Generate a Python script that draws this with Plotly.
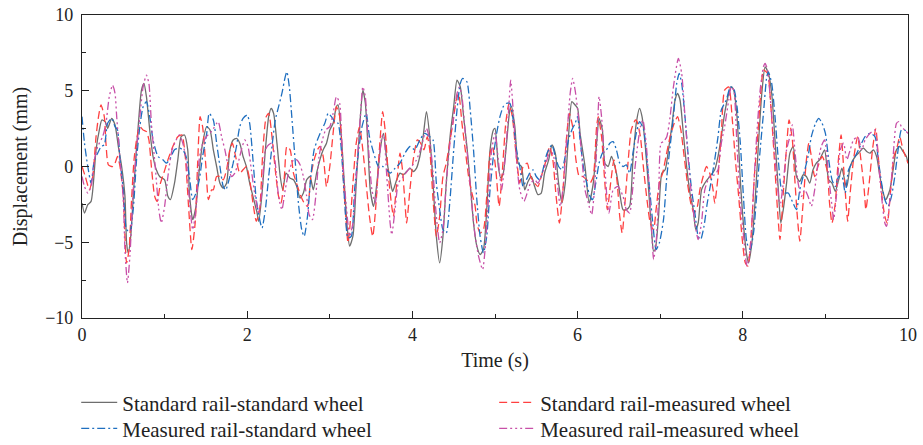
import plotly.graph_objects as go

# ---- data (time in s, displacement in mm) ----
ss = [(0.00,-2.41),(0.03,-3.07),(0.07,-2.52),(0.11,-2.30),(0.17,1.10),(0.21,2.41),(0.24,3.07),(0.28,2.96),(0.31,2.52),(0.36,3.18),
      (0.40,2.74),(0.44,1.32),(0.48,0.00),(0.52,-1.97),(0.54,-5.04),(0.56,-5.70),(0.59,-4.61),(0.63,-1.10),(0.68,2.63),(0.72,5.04),
      (0.75,5.48),(0.78,4.61),(0.82,2.41),(0.86,0.66),(0.90,-0.22),(0.94,-0.66),(1.00,-0.88),(1.04,-1.97),(1.07,-2.19),(1.12,-1.10),
      (1.16,0.44),(1.20,1.97),(1.24,2.08),(1.28,1.10),(1.30,-1.75),(1.34,-3.51),(1.38,-2.63),(1.42,-0.22),(1.46,1.54),(1.51,2.63),
      (1.55,2.41),(1.59,1.10),(1.63,0.00),(1.67,-1.10),(1.71,-1.43),(1.75,-1.10),(1.79,1.10),(1.83,1.75),(1.87,1.86),(1.91,1.54),
      (1.95,0.66),(1.99,0.00),(2.03,-1.10),(2.07,-1.97),(2.12,-3.07),(2.14,-3.62),(2.18,-1.75),(2.22,1.10),(2.26,3.29),(2.29,3.84),
      (2.32,3.51),(2.36,1.54),(2.40,-0.66),(2.43,-1.54),(2.47,-0.44),(2.52,-0.77),(2.56,-0.88),(2.60,-1.32),(2.64,-2.08),(2.68,-1.75),
      (2.72,-0.88),(2.76,-0.66),(2.80,-1.54),(2.84,-0.44),(2.88,0.44),(2.92,1.10),(2.96,1.54),(3.00,2.41),(3.04,2.85),(3.08,3.95),
      (3.10,4.06),(3.14,1.97),(3.18,-1.50),(3.21,-4.00),(3.24,-5.26),(3.28,-4.60),(3.32,-1.10),(3.37,3.29),(3.40,5.04),(3.43,4.20),
      (3.46,1.50),(3.49,-1.54),(3.53,-2.63),(3.57,-1.10),(3.61,1.10),(3.65,2.19),(3.69,0.44),(3.73,-0.88),(3.76,-1.64),(3.81,-0.88),
      (3.85,-0.44),(3.89,-0.55),(3.93,-0.33),(3.97,-0.11),(4.01,-0.33),(4.05,-0.11),(4.09,0.66),(4.13,1.97),(4.17,3.62),(4.21,1.97),
      (4.25,-1.10),(4.29,-4.61),(4.33,-6.36),(4.37,-4.61),(4.41,-1.10),(4.46,2.19),(4.50,3.95),(4.54,5.70),(4.58,5.26),(4.62,3.29),
      (4.66,1.32),(4.70,-1.10),(4.74,-3.73),(4.78,-5.26),(4.82,-5.81),(4.86,-5.48),(4.90,-2.85),(4.94,1.10),(4.98,2.41),(5.00,2.52),
      (5.04,0.00),(5.07,-0.77),(5.10,-0.44),(5.14,1.54),(5.18,3.73),(5.20,3.95),(5.24,2.63),(5.28,0.22),(5.32,0.00),(5.36,-1.54),
      (5.40,-0.99),(5.44,-0.66),(5.48,-1.32),(5.52,-1.86),(5.56,-1.75),(5.60,-0.44),(5.65,0.44),(5.69,1.43),(5.73,0.88),(5.77,-1.10),
      (5.81,-2.41),(5.85,-1.10),(5.89,1.97),(5.93,4.28),(5.97,4.06),(6.00,3.84),(6.03,2.19),(6.09,0.00),(6.14,-2.41),(6.19,-1.10),
      (6.23,1.54),(6.26,3.18),(6.30,2.41),(6.33,0.22),(6.37,0.00),(6.41,0.66),(6.47,-0.44),(6.51,-1.75),(6.55,-2.85),(6.59,-2.85),
      (6.63,-2.63),(6.67,0.44),(6.71,2.85),(6.75,3.84),(6.78,3.29),(6.82,1.32),(6.86,-1.54),(6.90,-4.61),(6.92,-5.59),(6.94,-5.48),
      (6.98,-3.29),(7.02,-0.44),(7.06,-0.22),(7.10,1.10),(7.14,2.63),(7.18,4.39),(7.21,4.82),(7.24,4.39),(7.28,2.19),(7.32,0.00),
      (7.36,-1.75),(7.40,-2.85),(7.43,-4.17),(7.46,-3.73),(7.50,-1.54),(7.54,-1.10),(7.60,-0.66),(7.66,-0.22),(7.70,0.66),(7.74,1.97),
      (7.78,3.51),(7.83,4.82),(7.86,5.26),(7.89,5.04),(7.93,3.29),(7.97,-0.90),(8.01,-3.95),(8.05,-5.92),(8.07,-6.36),(8.11,-5.04),
      (8.15,-2.19),(8.19,1.54),(8.23,4.82),(8.27,6.58),(8.31,6.14),(8.35,4.82),(8.39,1.75),(8.43,-1.54),(8.46,-3.73),(8.49,-2.85),
      (8.53,-1.10),(8.57,0.88),(8.61,1.32),(8.65,-0.66),(8.69,-0.99),(8.73,-0.55),(8.77,-0.66),(8.81,-1.10),(8.85,-0.22),(8.89,0.22),
      (8.93,0.44),(8.99,1.10),(9.04,-0.88),(9.08,-1.10),(9.12,-1.64),(9.16,-0.88),(9.20,-0.11),(9.24,-1.10),(9.26,-1.32),(9.30,0.00),
      (9.36,0.66),(9.40,0.88),(9.46,1.21),(9.50,0.99),(9.54,0.88),(9.58,1.10),(9.62,0.66),(9.66,-0.66),(9.70,-1.75),(9.73,-2.19),
      (9.78,-1.54),(9.82,-0.22),(9.86,1.10),(9.90,1.32),(9.94,0.99),(9.98,0.66),(10.00,0.22)]

sm = [(0.00,0.00),(0.04,-0.66),(0.09,-1.54),(0.13,-0.66),(0.17,1.97),(0.20,3.29),(0.23,4.06),(0.27,3.29),(0.29,1.54),(0.32,0.11),
      (0.37,0.00),(0.40,0.22),(0.43,0.66),(0.46,0.00),(0.50,-1.97),(0.52,-4.61),(0.54,-6.36),(0.57,-5.48),(0.60,-2.19),(0.63,0.44),
      (0.66,1.75),(0.70,2.63),(0.74,2.41),(0.78,2.30),(0.81,1.75),(0.84,0.00),(0.88,-1.97),(0.91,-2.30),(0.95,-1.10),(0.99,-0.44),
      (1.04,0.44),(1.10,1.32),(1.16,1.97),(1.21,2.08),(1.25,0.66),(1.29,-2.63),(1.33,-5.48),(1.37,-3.73),(1.40,0.22),(1.43,3.29),
      (1.46,2.63),(1.50,0.00),(1.53,-2.19),(1.57,-1.54),(1.59,-1.54),(1.63,-0.66),(1.67,-0.66),(1.71,-0.88),(1.75,-0.22),(1.79,1.10),
      (1.82,1.54),(1.86,0.66),(1.91,-0.44),(1.95,-0.22),(1.99,0.00),(2.03,-0.88),(2.07,-2.41),(2.11,-3.62),(2.15,-2.85),(2.19,1.10),
      (2.23,3.29),(2.26,3.51),(2.30,1.97),(2.34,-0.22),(2.38,-1.97),(2.41,-2.41),(2.45,-0.66),(2.48,1.32),(2.52,1.10),(2.56,-0.44),
      (2.61,-1.32),(2.65,-1.97),(2.69,-2.41),(2.73,-2.63),(2.77,-0.66),(2.81,0.44),(2.85,1.10),(2.88,1.32),(2.92,0.66),(2.96,-1.32),
      (3.00,0.00),(3.04,2.19),(3.08,3.95),(3.12,3.29),(3.16,-0.50),(3.20,-3.80),(3.22,-5.04),(3.24,-4.20),(3.28,-1.10),(3.32,1.54),
      (3.36,2.63),(3.40,1.10),(3.44,-1.10),(3.48,-3.29),(3.52,-4.61),(3.56,-2.41),(3.60,1.10),(3.64,3.62),(3.67,2.41),(3.71,-0.66),
      (3.75,-2.63),(3.77,-3.29),(3.81,-1.10),(3.85,0.88),(3.88,-0.22),(3.91,-2.41),(3.93,-3.73),(3.97,-1.54),(4.01,0.44),(4.06,1.75),
      (4.10,1.54),(4.14,1.10),(4.18,1.97),(4.21,1.10),(4.25,-2.19),(4.29,-4.61),(4.33,-3.29),(4.37,-0.66),(4.41,0.22),(4.45,1.54),
      (4.49,2.85),(4.53,4.39),(4.56,4.82),(4.60,2.85),(4.64,1.10),(4.68,-0.66),(4.72,-1.75),(4.76,-2.63),(4.78,-3.73),(4.82,-4.39),
      (4.86,-4.17),(4.90,-1.97),(4.94,0.88),(4.97,1.32),(5.01,-0.22),(5.05,-2.63),(5.09,-0.22),(5.13,2.85),(5.17,4.17),(5.21,3.29),
      (5.25,1.10),(5.30,-1.10),(5.34,0.00),(5.39,0.22),(5.43,-0.66),(5.48,-1.10),(5.52,-1.32),(5.56,-0.66),(5.62,0.44),(5.66,1.32),
      (5.70,0.44),(5.74,-1.97),(5.78,-3.73),(5.82,-1.75),(5.86,1.54),(5.90,3.51),(5.94,2.63),(5.98,0.44),(6.02,-0.66),(6.06,-0.66),
      (6.11,-0.88),(6.15,-1.10),(6.19,-0.66),(6.23,2.63),(6.25,3.29),(6.29,1.97),(6.33,-1.10),(6.36,-2.85),(6.40,-1.10),(6.44,0.44),
      (6.48,-1.10),(6.51,-3.29),(6.54,-4.39),(6.57,-2.63),(6.61,0.22),(6.65,2.41),(6.70,3.07),(6.72,2.96),(6.76,1.97),(6.80,-0.22),
      (6.84,-2.19),(6.88,-3.73),(6.92,-4.17),(6.95,-2.85),(6.99,-1.10),(7.03,-0.44),(7.07,0.66),(7.12,1.97),(7.17,2.85),(7.21,3.29),
      (7.25,2.41),(7.29,0.66),(7.33,-1.10),(7.37,-2.41),(7.41,-3.07),(7.45,-2.63),(7.48,-1.54),(7.52,-0.66),(7.56,0.00),(7.60,-0.44),
      (7.64,-1.54),(7.66,-2.41),(7.70,-0.66),(7.74,2.19),(7.78,5.04),(7.83,5.26),(7.87,3.29),(7.91,0.44),(7.95,-1.97),(7.99,-4.61),
      (8.03,-6.36),(8.06,-6.58),(8.10,-4.61),(8.14,-0.66),(8.18,1.97),(8.22,5.04),(8.25,6.36),(8.30,6.14),(8.34,3.95),(8.38,0.66),
      (8.42,-2.85),(8.45,-4.82),(8.49,-1.75),(8.53,1.32),(8.56,3.07),(8.60,1.75),(8.63,-0.88),(8.66,-3.29),(8.69,-4.93),(8.73,-2.41),
      (8.77,0.44),(8.80,1.54),(8.83,0.66),(8.87,-0.66),(8.91,0.00),(8.96,0.66),(9.02,-0.22),(9.05,-2.41),(9.08,-3.73),(9.12,-2.41),
      (9.15,0.00),(9.19,2.08),(9.22,0.00),(9.25,-2.41),(9.27,-3.62),(9.30,-1.75),(9.34,0.44),(9.39,1.97),(9.43,0.44),(9.47,-1.54),
      (9.49,-2.85),(9.53,-1.10),(9.57,1.10),(9.61,2.52),(9.64,0.66),(9.68,-1.75),(9.72,-3.29),(9.75,-3.73),(9.79,-1.54),(9.83,0.66),
      (9.87,1.32),(9.90,1.97),(9.94,1.10),(9.97,0.66),(10.00,0.22)]

ms = [(0.00,3.29),(0.03,1.54),(0.07,0.00),(0.11,-1.10),(0.15,0.44),(0.19,0.88),(0.23,1.32),(0.27,1.43),(0.31,2.85),(0.36,3.18),
      (0.40,2.63),(0.43,2.41),(0.46,0.44),(0.50,-1.54),(0.54,-4.17),(0.58,-4.28),(0.62,-2.85),(0.66,0.44),(0.70,2.63),(0.74,3.95),
      (0.78,4.28),(0.82,3.29),(0.86,1.75),(0.92,0.66),(0.98,0.44),(1.02,0.22),(1.06,0.44),(1.12,1.10),(1.18,1.21),(1.22,1.10),
      (1.26,0.66),(1.30,-0.66),(1.34,-2.19),(1.38,-1.75),(1.42,-0.88),(1.46,0.66),(1.51,2.19),(1.54,3.51),(1.59,3.07),(1.63,1.54),
      (1.67,0.00),(1.71,-1.32),(1.74,-1.54),(1.79,-0.66),(1.83,0.22),(1.87,1.32),(1.91,2.63),(1.95,3.18),(2.00,3.40),(2.03,2.85),
      (2.07,0.44),(2.11,-2.19),(2.16,-3.73),(2.18,-4.06),(2.22,-2.85),(2.26,-0.66),(2.30,1.32),(2.34,3.07),(2.38,3.95),(2.42,4.82),
      (2.46,5.92),(2.48,6.25),(2.51,5.26),(2.54,3.29),(2.58,0.44),(2.62,-2.41),(2.66,-4.17),(2.69,-4.61),(2.73,-3.29),(2.77,-0.66),
      (2.81,1.10),(2.85,1.75),(2.90,2.41),(2.94,2.85),(2.98,3.51),(3.02,3.29),(3.06,2.96),(3.10,2.85),(3.14,1.10),(3.18,-2.30),
      (3.22,-4.71),(3.26,-4.61),(3.30,-1.54),(3.35,1.10),(3.39,2.63),(3.44,3.51),(3.48,1.97),(3.52,1.10),(3.57,0.22),(3.60,-0.11),
      (3.64,0.00),(3.69,-0.22),(3.73,-0.44),(3.79,-0.11),(3.85,0.22),(3.91,0.88),(3.97,1.32),(4.03,1.10),(4.09,1.75),(4.15,2.19),
      (4.21,1.97),(4.25,1.75),(4.29,-1.10),(4.33,-2.85),(4.37,-4.17),(4.41,-4.39),(4.455,-2.19),(4.50,1.10),(4.54,3.73),(4.58,5.48),
      (4.61,5.81),(4.66,5.59),(4.70,3.73),(4.74,1.10),(4.78,-2.19),(4.82,-4.61),(4.86,-5.70),(4.90,-4.61),(4.94,-1.54),(4.98,0.66),
      (5.02,2.19),(5.06,3.29),(5.10,3.95),(5.14,4.17),(5.18,4.17),(5.22,3.07),(5.26,1.10),(5.30,0.00),(5.34,-1.32),(5.38,-0.88),
      (5.42,-0.44),(5.46,-0.22),(5.50,-0.66),(5.54,-0.88),(5.58,-0.22),(5.63,0.88),(5.69,1.43),(5.73,0.66),(5.77,0.00),(5.81,-0.22),
      (5.85,0.66),(5.89,1.75),(5.93,2.41),(5.97,2.85),(6.00,3.29),(6.03,1.75),(6.07,0.00),(6.11,-1.10),(6.15,-1.97),(6.18,-2.19),
      (6.22,-1.10),(6.26,0.22),(6.30,0.88),(6.35,1.10),(6.39,1.54),(6.43,1.64),(6.47,1.10),(6.51,0.22),(6.55,0.00),(6.59,0.11),
      (6.63,-0.44),(6.67,0.88),(6.71,2.19),(6.75,2.96),(6.80,2.41),(6.84,0.44),(6.88,-1.97),(6.91,-3.73),(6.95,-5.48),(6.99,-5.04),
      (7.04,-3.51),(7.08,-0.66),(7.12,1.32),(7.16,3.29),(7.20,5.48),(7.23,6.14),(7.26,5.48),(7.30,3.29),(7.34,0.66),(7.38,-1.54),
      (7.42,-3.07),(7.46,-4.61),(7.49,-4.82),(7.53,-3.95),(7.57,-2.41),(7.62,-0.88),(7.66,0.44),(7.70,1.97),(7.74,3.73),(7.80,4.39),
      (7.85,5.26),(7.89,5.15),(7.93,3.95),(7.97,1.54),(8.01,-2.20),(8.05,-5.04),(8.09,-5.48),(8.13,-4.39),(8.17,-1.75),(8.21,1.10),
      (8.25,3.51),(8.29,5.92),(8.31,6.25),(8.35,5.48),(8.39,3.29),(8.43,0.44),(8.47,-1.54),(8.51,-1.75),(8.55,-1.75),(8.59,-2.19),
      (8.65,-2.85),(8.69,-1.54),(8.73,-0.66),(8.79,0.66),(8.83,1.97),(8.88,2.85),(8.92,3.18),(8.96,2.85),(9.00,2.19),(9.04,0.44),
      (9.08,-0.88),(9.12,-1.32),(9.16,-0.66),(9.20,-0.66),(9.24,-1.75),(9.28,-0.22),(9.32,0.22),(9.36,0.66),(9.42,1.32),(9.48,1.97),
      (9.54,2.19),(9.60,1.97),(9.64,0.44),(9.68,-1.10),(9.72,-2.19),(9.76,-2.63),(9.80,-1.97),(9.84,-0.66),(9.88,1.10),(9.92,2.41),
      (9.96,2.41),(10.00,2.19)]

mm = [(0.00,-0.66),(0.03,-1.32),(0.07,-1.75),(0.11,-1.32),(0.15,0.44),(0.19,1.32),(0.25,1.97),(0.29,2.85),(0.33,4.61),(0.37,5.37),
      (0.40,4.82),(0.42,3.29),(0.46,0.44),(0.50,-2.19),(0.52,-5.48),(0.55,-7.68),(0.58,-5.92),(0.62,-1.54),(0.66,1.10),(0.70,3.29),
      (0.74,5.26),(0.78,6.03),(0.81,5.48),(0.84,2.85),(0.89,-0.22),(0.93,-2.85),(0.96,-3.73),(1.00,-2.63),(1.04,-0.66),(1.09,1.10),
      (1.14,1.75),(1.18,2.08),(1.22,1.54),(1.26,0.44),(1.30,-2.19),(1.34,-4.17),(1.38,-2.85),(1.42,0.50),(1.46,1.50),(1.51,2.00),
      (1.55,2.20),(1.59,2.50),(1.63,2.85),(1.65,2.96),(1.69,1.97),(1.73,1.10),(1.77,0.00),(1.81,-0.66),(1.85,-0.44),(1.89,0.22),
      (1.93,1.10),(1.97,1.75),(2.01,1.32),(2.05,-0.22),(2.09,-1.75),(2.14,-3.07),(2.18,-1.54),(2.22,1.10),(2.26,1.43),(2.30,1.54),
      (2.34,0.22),(2.38,-1.97),(2.42,-2.85),(2.46,-1.54),(2.50,-0.44),(2.56,0.44),(2.60,0.44),(2.64,0.11),(2.68,-0.66),(2.72,-1.97),
      (2.75,-3.18),(2.79,-3.51),(2.83,-1.97),(2.87,0.66),(2.91,1.75),(2.95,2.41),(3.00,2.63),(3.04,3.51),(3.08,4.61),(3.12,4.17),
      (3.14,2.19),(3.16,0.00),(3.20,-2.63),(3.24,-4.61),(3.28,-3.73),(3.32,-0.66),(3.37,3.29),(3.40,5.26),(3.43,4.61),(3.47,1.10),
      (3.51,-1.54),(3.55,-2.41),(3.59,-0.22),(3.63,1.97),(3.65,2.08),(3.69,-0.66),(3.73,-3.73),(3.75,-4.50),(3.79,-2.85),(3.83,-1.10),
      (3.89,-0.66),(3.95,-0.22),(3.99,0.00),(4.05,0.44),(4.11,1.32),(4.17,2.52),(4.21,1.75),(4.25,-0.44),(4.29,-3.29),(4.33,-5.04),
      (4.37,-4.17),(4.41,-1.10),(4.455,1.54),(4.50,3.29),(4.54,4.82),(4.57,5.26),(4.60,4.61),(4.64,2.19),(4.68,0.00),(4.72,-2.50),
      (4.76,-4.60),(4.80,-5.90),(4.85,-6.80),(4.88,-5.48),(4.92,-2.19),(4.96,1.10),(5.00,2.19),(5.04,0.44),(5.08,-1.54),(5.12,0.44),
      (5.16,3.29),(5.19,5.70),(5.22,3.73),(5.26,0.44),(5.30,-1.54),(5.35,-2.30),(5.39,-1.75),(5.43,-1.10),(5.48,-0.88),(5.52,-1.10),
      (5.56,-0.66),(5.63,0.44),(5.67,1.10),(5.71,0.66),(5.75,-0.88),(5.79,-2.63),(5.83,-1.10),(5.87,1.97),(5.91,4.82),(5.94,5.81),
      (5.97,5.04),(6.01,3.29),(6.05,0.66),(6.09,-1.54),(6.13,-2.41),(6.17,-3.18),(6.21,-1.10),(6.24,2.41),(6.26,4.61),(6.29,3.29),
      (6.33,0.00),(6.36,-2.40),(6.38,-3.07),(6.43,-1.54),(6.49,-1.32),(6.55,-1.97),(6.59,-2.85),(6.63,-3.07),(6.67,-1.32),(6.71,0.66),
      (6.76,2.63),(6.79,3.07),(6.83,1.54),(6.87,-1.75),(6.90,-4.61),(6.92,-6.14),(6.95,-5.04),(6.98,-2.19),(7.01,1.54),(7.04,1.64),
      (7.08,1.97),(7.12,3.29),(7.16,5.26),(7.22,7.13),(7.26,6.14),(7.30,3.29),(7.34,0.44),(7.38,-1.97),(7.42,-3.73),(7.46,-4.82),
      (7.50,-3.73),(7.54,-1.54),(7.60,-0.66),(7.66,-0.55),(7.70,-0.22),(7.74,1.54),(7.78,2.63),(7.83,4.39),(7.86,5.26),(7.89,5.04),
      (7.93,1.30),(7.97,-2.41),(8.01,-4.61),(8.05,-6.58),(8.09,-5.48),(8.13,-1.54),(8.17,2.19),(8.21,5.04),(8.25,6.58),(8.27,6.80),
      (8.30,6.36),(8.35,3.29),(8.41,-0.66),(8.45,-2.63),(8.49,-1.10),(8.53,1.10),(8.57,1.97),(8.60,2.74),(8.63,1.10),(8.67,-1.10),
      (8.71,-1.97),(8.75,-1.54),(8.79,-1.97),(8.83,-2.63),(8.87,-1.54),(8.91,0.22),(8.95,1.32),(8.99,1.75),(9.04,-0.66),(9.08,-2.63),
      (9.10,-3.51),(9.14,-1.54),(9.18,1.10),(9.22,1.54),(9.26,0.44),(9.30,1.10),(9.34,1.75),(9.39,1.97),(9.44,1.10),(9.48,1.75),
      (9.54,2.19),(9.60,2.41),(9.64,0.44),(9.68,-1.97),(9.72,-3.73),(9.74,-3.95),(9.78,-2.19),(9.82,0.66),(9.86,2.85),(9.89,2.96),
      (9.92,2.63),(9.96,2.41),(10.00,2.19)]

series_names = ["Standard rail-standard wheel", "Standard rail-measured wheel",
                "Measured rail-standard wheel", "Measured rail-measured wheel"]
series_data = [ss, sm, ms, mm]
series_colors = ["#6e6e6e", "#ff4040", "#1f6fc0", "#c850a8"]
series_dash = ["solid", "8px,4px", "8px,3px,2px,3px", "8px,3px,2px,3px,2px,3px,2px,3px"]

x_ticks = [0, 2, 4, 6, 8, 10]
y_ticks = [-10, -5, 0, 5, 10]

FONT = "Liberation Serif"
legend_ids = ["legend", "legend2", "legend3", "legend4"]
# legend slots: (paper x, paper y) -> two columns, two rows
legend_slots = [(-0.007, -0.212), (0.499, -0.212), (-0.007, -0.298), (0.499, -0.298)]

fig = go.Figure()
for name, data, color, dash, lid in zip(series_names, series_data, series_colors, series_dash, legend_ids):
    t, y = zip(*data)
    fig.add_trace(go.Scatter(x=list(t), y=list(y), mode="lines", name=name, legend=lid,
                             line=dict(color=color, width=1.3, dash=dash,
                                       shape="spline", smoothing=0.6)))

legend_layouts = {}
for lid, (lx, ly) in zip(legend_ids, legend_slots):
    legend_layouts[lid] = dict(orientation="v", x=lx, xanchor="left", y=ly, yanchor="top",
                               itemwidth=36, font=dict(family=FONT, size=21, color="#222"),
                               bgcolor="rgba(0,0,0,0)")

fig.update_layout(
    width=923, height=445,
    margin=dict(l=82, r=15, t=15, b=127, autoexpand=False),
    paper_bgcolor="white", plot_bgcolor="white",
    font=dict(family=FONT, size=18, color="#222"),
    showlegend=True,
    **legend_layouts,
)
fig.update_xaxes(range=[0, 10], tickvals=x_ticks, ticks="inside", ticklen=7, tickwidth=1,
                 tickcolor="#222", showline=True, linecolor="#222", linewidth=1.2, mirror=True,
                 showgrid=False, zeroline=False,
                 minor=dict(dtick=1, ticks="inside", ticklen=4, tickcolor="#222", showgrid=False),
                 title=dict(text="Time (s)", font=dict(size=20), standoff=9),
                 tickfont=dict(size=18))
fig.update_yaxes(range=[-10, 10], tickvals=y_ticks, ticks="inside", ticklen=7, tickwidth=1,
                 tickcolor="#222", showline=True, linecolor="#222", linewidth=1.2, mirror=True,
                 showgrid=False, zeroline=False, ticklabelstandoff=4,
                 minor=dict(dtick=2.5, ticks="inside", ticklen=4, tickcolor="#222", showgrid=False),
                 title=dict(text="Displacement (mm)", font=dict(size=20), standoff=12),
                 tickfont=dict(size=18))

fig.write_html("out.html")
